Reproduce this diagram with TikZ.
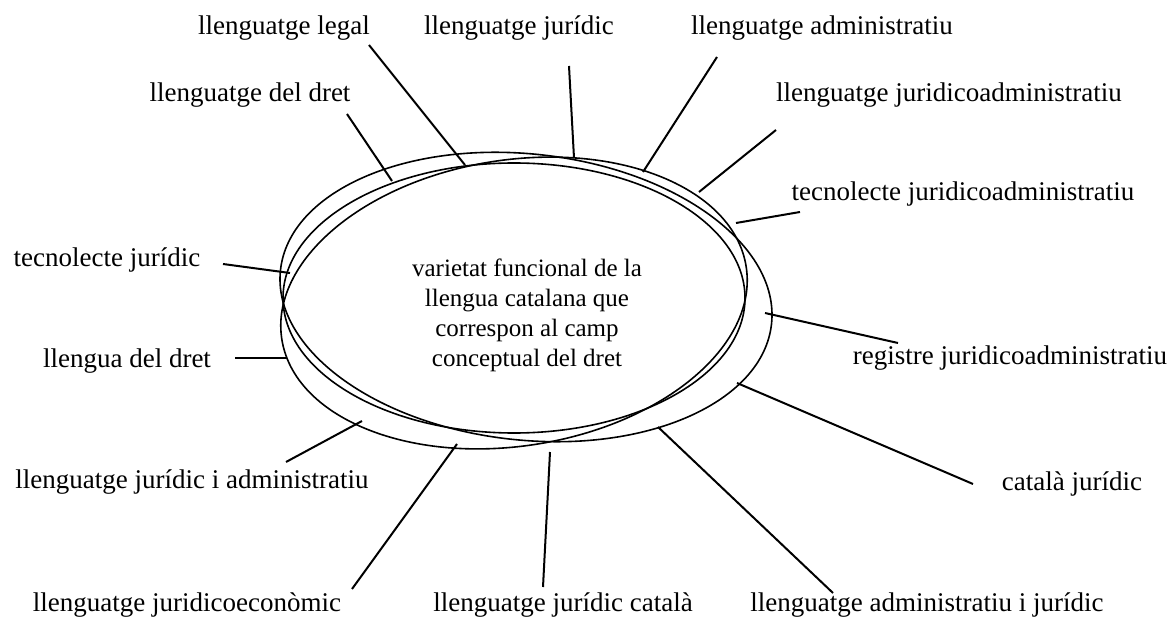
\documentclass[tikz,border=0pt]{standalone}
\usepackage{fontspec}
\setmainfont{Liberation Serif}

\begin{document}
\begin{tikzpicture}[x=1pt, y=-1pt, every node/.style={font=\fontsize{27}{30}\selectfont, inner sep=0pt},
    term/.style={anchor=base}, ring/.style={line width=1.6pt}, tick/.style={line width=2pt}]
\useasboundingbox (0,0) rectangle (1175,617);

% Three overlapping ellipses
\draw[ring, rotate around={-6.3:(526,297)}] (526,297) ellipse [x radius=247pt, y radius=143pt];
\draw[ring, rotate around={8.9:(514,303)}] (514,303) ellipse [x radius=235pt, y radius=143pt];
\draw[ring] (514,298) ellipse [x radius=231pt, y radius=135pt];

% Definition in the middle
\node[font=\fontsize{25}{30}\selectfont, align=center] (def) at (527,315)
    {varietat funcional de la\\llengua catalana que\\correspon al camp\\conceptual del dret};

% Terms round the ellipses
\node[term] (legal)   at (284,35)  {llenguatge legal};
\node[term] (jur)     at (519,35)  {llenguatge jurídic};
\node[term] (adm)     at (822,35)  {llenguatge administratiu};
\node[term] (dret)    at (250,102) {llenguatge del dret};
\node[term] (jadm)    at (949,102) {llenguatge juridicoadministratiu};
\node[term] (tjadm)   at (963,201) {tecnolecte juridicoadministratiu};
\node[term] (tjur)    at (107,267) {tecnolecte jurídic};
\node[term] (ldret)   at (127,367) {llengua del dret};
\node[term] (reg)     at (1010,365) {registre juridicoadministratiu};
\node[term] (jiadm)   at (192,488) {llenguatge jurídic i administratiu};
\node[term] (cat)     at (1072,490) {català jurídic};
\node[term] (jeco)    at (187,611) {llenguatge juridicoeconòmic};
\node[term] (jcat)    at (563,611) {llenguatge jurídic català};
\node[term] (admij)   at (927,611) {llenguatge administratiu i jurídic};

% Ends of the connectors
\coordinate (legal-o) at (369,45);  \coordinate (legal-i) at (465,165);
\coordinate (jur-o)   at (569,66);  \coordinate (jur-i)   at (574,158);
\coordinate (adm-o)   at (717,57);  \coordinate (adm-i)   at (643,172);
\coordinate (dret-o)  at (347,114); \coordinate (dret-i)  at (392,181);
\coordinate (jadm-o)  at (776,130); \coordinate (jadm-i)  at (699,192);
\coordinate (tjadm-o) at (800,212); \coordinate (tjadm-i) at (736,223);
\coordinate (tjur-o)  at (223,264); \coordinate (tjur-i)  at (290,273);
\coordinate (ldret-o) at (235,358); \coordinate (ldret-i) at (287,358);
\coordinate (reg-o)   at (898,343); \coordinate (reg-i)   at (765,313);
\coordinate (jiadm-o) at (286,462); \coordinate (jiadm-i) at (362,421);
\coordinate (cat-o)   at (973,484); \coordinate (cat-i)   at (737,383);
\coordinate (jeco-o)  at (352,589); \coordinate (jeco-i)  at (457,444);
\coordinate (jcat-o)  at (543,587); \coordinate (jcat-i)  at (550,452);
\coordinate (admij-o) at (833,593); \coordinate (admij-i) at (658,427);

% Connectors
\foreach \t in {legal,jur,adm,dret,jadm,tjadm,tjur,ldret,reg,jiadm,cat,jeco,jcat,admij}
    \draw[tick] (\t-o) -- (\t-i);

\end{tikzpicture}
\end{document}
